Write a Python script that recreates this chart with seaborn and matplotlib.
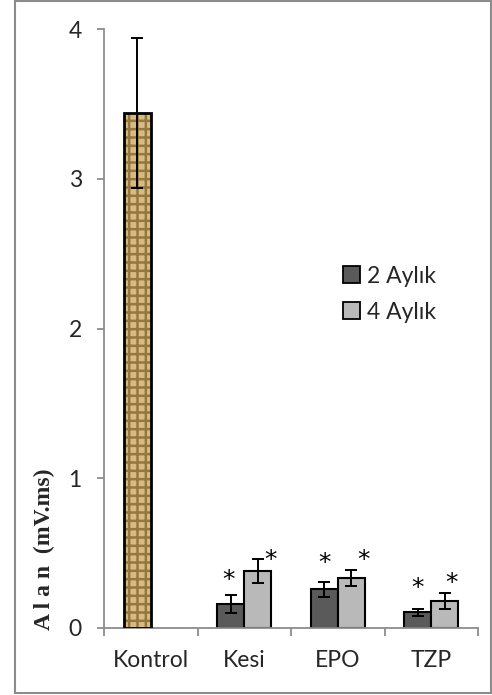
import matplotlib
matplotlib.use("Agg")
import matplotlib.pyplot as plt
from matplotlib.patches import Rectangle, Patch
import seaborn as sns
import pandas as pd

categories = ["Kontrol", "Kesi", "EPO", "TZP"]
series_names = ["2 Aylık", "4 Aylık"]
values_2ay = [3.44, 0.16, 0.26, 0.105]
values_4ay = [0.0, 0.38, 0.335, 0.18]
err_2ay = [0.50, 0.06, 0.05, 0.025]
err_4ay = [0.0, 0.08, 0.055, 0.055]
# significance marks (y position in data units)
star_2ay = [None, 0.32, 0.435, 0.27]
star_4ay = [None, 0.455, 0.455, 0.30]
y_ticks = [0, 1, 2, 3, 4]
y_label = "A l a n  (mV.ms)"

sns.set_theme(style="white")
plt.rcParams["font.family"] = ["Lato", "DejaVu Sans"]
plt.rcParams["hatch.linewidth"] = 1.8

df = pd.DataFrame({
    "cat": categories * 2,
    "grp": [series_names[0]] * 4 + [series_names[1]] * 4,
    "val": values_2ay + values_4ay,
})

fig = plt.figure(figsize=(4.92, 6.95), dpi=100)
ax = fig.add_axes([104 / 492, 1 - 628 / 695, (478 - 104) / 492, (628 - 29) / 695])

colors = {series_names[0]: "#5a5a5a", series_names[1]: "#b9b9b9"}
sns.barplot(data=df, x="cat", y="val", hue="grp", hue_order=series_names,
            order=categories, palette=colors, width=0.58, errorbar=None,
            edgecolor="black", linewidth=1.5, legend=False, ax=ax,
            saturation=1)

bars = list(ax.patches)
bars_2 = bars[:4]
bars_4 = bars[4:8]

# error bars
for blist, vals, errs in ((bars_2, values_2ay, err_2ay), (bars_4, values_4ay, err_4ay)):
    for p, v, e in zip(blist, vals, errs):
        if e > 0:
            cx = p.get_x() + p.get_width() / 2
            ax.errorbar(cx, v, yerr=e, fmt="none", ecolor="black",
                        elinewidth=1.4, capsize=4.3, capthick=1.4, zorder=5)

# zero bar in Kontrol shown as gray line
bars_4[0].set_edgecolor("#9a9a9a")
bars_4[0].set_linewidth(1.0)

# Kontrol bar with woven texture
kp = bars_2[0]
kp.set_facecolor("#d6bb85")
kp.set_edgecolor("#98773f")
kp.set_hatch("++")
kp.set_linewidth(0)
ax.add_patch(Rectangle(kp.get_xy(), kp.get_width(), kp.get_height(),
                       fill=False, edgecolor="black", linewidth=2, zorder=4))

# asterisks
for blist, ys, dx in ((bars_2, star_2ay, [0, -0.02, 0, 0]), (bars_4, star_4ay, [0, 0.14, 0.13, 0.07])):
    for p, ys_, d in zip(blist, ys, dx):
        if ys_ is None:
            continue
        cx = p.get_x() + p.get_width() / 2 + d
        ax.text(cx, ys_, "*", ha="center", va="center", fontsize=18,
                family=["DejaVu Sans"], color="black")

ax.set_ylim(0, 4)
ax.set_xlim(-0.5, 3.5)
ax.set_yticks(y_ticks)
ax.set_yticklabels([str(t) for t in y_ticks])
ax.set_xlabel("")
ax.set_ylabel("")

axis_gray = "#8c8c8c"
for s in ["top", "right"]:
    ax.spines[s].set_visible(False)
for s in ["left", "bottom"]:
    ax.spines[s].set_color(axis_gray)
    ax.spines[s].set_linewidth(1.3)

ax.set_xticks([-0.5, 0.5, 1.5, 2.5, 3.5], minor=True)
ax.tick_params(axis="x", which="minor", length=6, width=1.3, color=axis_gray, direction="out", bottom=True)
ax.tick_params(axis="x", which="major", length=0, pad=16, labelsize=16.5)
ax.tick_params(axis="y", which="major", length=5, width=1.3, color=axis_gray, direction="out", left=True, pad=11, labelsize=16.5)

fig.text(44 / 492, 1 - 549 / 695, y_label, rotation=90, ha="center", va="center",
         family=["Liberation Serif"], fontweight="bold", fontsize=17)

handles = [Patch(facecolor=colors[n], edgecolor="black", linewidth=1.3) for n in series_names]
ax.legend(handles, series_names, loc="upper left", bbox_to_anchor=(0.615, 0.62),
          frameon=False, fontsize=16.5, handlelength=0.75, handleheight=0.75,
          handletextpad=0.3, labelspacing=0.65, borderaxespad=0)

fig.patches.append(Rectangle((15 / 492, 1 - 693 / 695), (491 - 15) / 492, (693 - 1) / 695,
                             transform=fig.transFigure, fill=False,
                             edgecolor="#8c8c8c", linewidth=1.5))

fig.savefig("out.png", dpi=100)
